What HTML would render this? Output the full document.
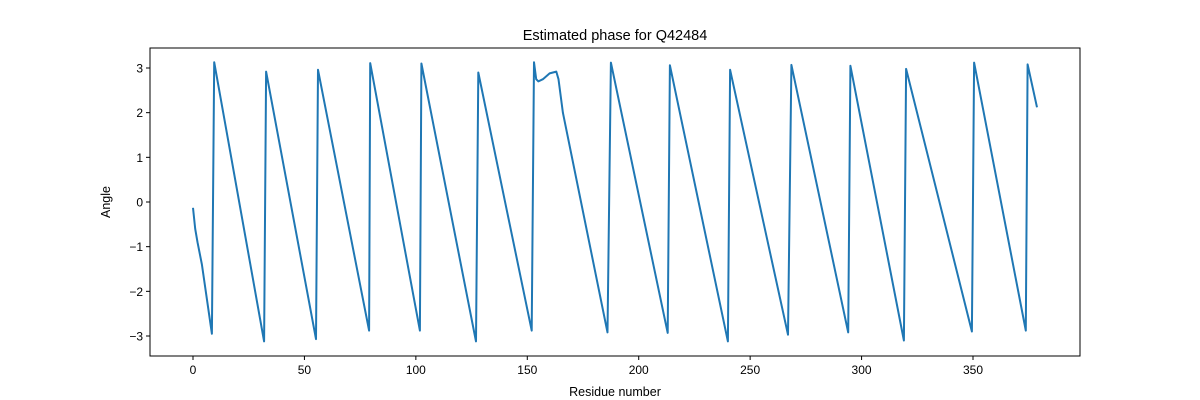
<!DOCTYPE html>
<html><head><meta charset="utf-8"><style>
body{margin:0;background:#fff}
svg{display:block;font-family:"Liberation Sans","DejaVu Sans",sans-serif}
</style></head><body>
<svg id="chart" width="1200" height="400">
<rect width="1200" height="400" fill="#fff"/>
<text x="615" y="40" font-size="14.5" text-anchor="middle">Estimated phase for Q42484</text>
<g id="plot"></g>
<rect x="150" y="48" width="930" height="308" fill="none" stroke="#000" stroke-width="1"/>
<text x="615" y="396" font-size="12.5" text-anchor="middle">Residue number</text>
<text transform="translate(110,202) rotate(-90)" font-size="12.5" text-anchor="middle">Angle</text>
</svg>
<script>
const residues = [0,1,2,4,8.5,9.5,31.9,32.8,55.2,56.1,79,79.5,101.8,102.5,127,128,152,153,154,155,157,160,163,164,166,186,187.5,213,214,240,241,267,268.5,294,295,319,320,349.5,350.5,373.7,374.5,378.7];
const angles = [-0.13,-0.6,-0.9,-1.4,-2.95,3.13,-3.12,2.92,-3.07,2.96,-2.88,3.11,-2.88,3.1,-3.12,2.9,-2.88,3.13,2.75,2.7,2.75,2.88,2.92,2.75,2.0,-2.92,3.12,-2.93,3.06,-3.12,2.96,-2.97,3.07,-2.92,3.05,-3.1,2.98,-2.9,3.12,-2.88,3.08,2.12];
const xTicks = [0,50,100,150,200,250,300,350];
const yTicks = [-3,-2,-1,0,1,2,3];
const NS='http://www.w3.org/2000/svg';
const X0=150,X1=1080,Y0=48,Y1=356;
const xmin=-18.9,xmax=397.6,ymin=-3.43,ymax=3.45;
const sx=v=>193+(v-0)*(780/350);
const sy=v=>202-v*(268/6);
const g=document.getElementById('plot');
function mk(tag,attrs){const e=document.createElementNS(NS,tag);for(const k in attrs)e.setAttribute(k,attrs[k]);g.appendChild(e);return e;}
xTicks.forEach(t=>{
  const x=sx(t);
  const l=mk('line',{x1:x,x2:x,y1:Y1,y2:Y1+4,stroke:'#000'});
  
  
  const tx=mk('text',{x:x,y:Y1+18,'font-size':12,'text-anchor':'middle'});
  tx.textContent=t;
  
  
});
yTicks.forEach(t=>{
  const y=sy(t);
  const l=mk('line',{x1:X0-4,x2:X0,y1:y,y2:y,stroke:'#000'});
  
  
  const tx=mk('text',{x:X0-7,y:y+4.5,'font-size':12,'text-anchor':'end'});
  tx.textContent=(t<0?'\u2212'+(-t):t);
  
  
});
const pts=residues.map((r,i)=>sx(r).toFixed(1)+','+sy(angles[i]).toFixed(1)).join(' ');
const line=mk('polyline',{points:pts,fill:'none',stroke:'#1f77b4','stroke-width':2,'stroke-linejoin':'round'});


</script>
</body></html>
